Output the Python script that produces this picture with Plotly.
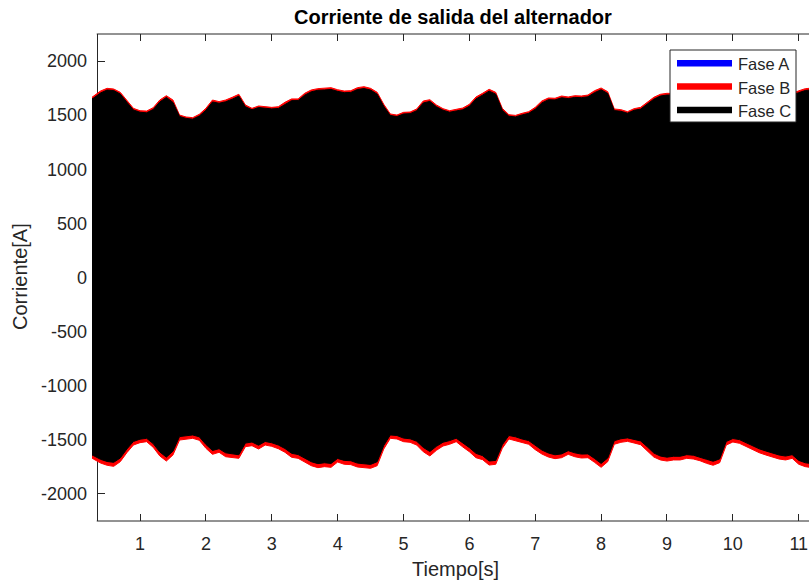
import plotly.graph_objects as go

# Sample times [s] of the current envelopes
TIEMPO = [0.27, 0.3, 0.4, 0.5, 0.6, 0.7, 0.8, 0.9, 1.0, 1.1,
          1.2, 1.3, 1.4, 1.5, 1.6, 1.7, 1.8, 1.9, 2.0, 2.1,
          2.2, 2.3, 2.4, 2.5, 2.6, 2.7, 2.8, 2.9, 3.0, 3.1,
          3.2, 3.3, 3.4, 3.5, 3.6, 3.7, 3.8, 3.9, 4.0, 4.1,
          4.2, 4.3, 4.4, 4.5, 4.6, 4.7, 4.8, 4.9, 5.0, 5.1,
          5.2, 5.3, 5.4, 5.5, 5.6, 5.7, 5.8, 5.9, 6.0, 6.1,
          6.2, 6.3, 6.4, 6.5, 6.6, 6.7, 6.8, 6.9, 7.0, 7.1,
          7.2, 7.3, 7.4, 7.5, 7.6, 7.7, 7.8, 7.9, 8.0, 8.1,
          8.2, 8.3, 8.4, 8.5, 8.6, 8.7, 8.8, 8.9, 9.0, 9.1,
          9.2, 9.3, 9.4, 9.5, 9.6, 9.7, 9.8, 9.9, 10.0, 10.1,
          10.2, 10.3, 10.4, 10.5, 10.6, 10.7, 10.8, 10.9, 11.0, 11.1,
          11.2]

# Phase B: positive / negative peak envelope [A]
FASE_B_SUP = [1665, 1677, 1723, 1748, 1742, 1711, 1637, 1563, 1541, 1538,
              1569, 1640, 1680, 1640, 1501, 1483, 1477, 1508, 1563, 1640,
              1625, 1640, 1665, 1693, 1594, 1563, 1585, 1578, 1572, 1578,
              1619, 1650, 1650, 1702, 1733, 1745, 1748, 1754, 1735, 1723,
              1726, 1754, 1763, 1748, 1711, 1600, 1511, 1501, 1526, 1529,
              1557, 1631, 1643, 1594, 1560, 1541, 1554, 1566, 1600, 1668,
              1702, 1739, 1711, 1563, 1504, 1498, 1517, 1532, 1572, 1631,
              1659, 1656, 1677, 1668, 1680, 1677, 1686, 1726, 1751, 1717,
              1557, 1551, 1532, 1560, 1572, 1619, 1665, 1693, 1702, 1700,
              1695, 1685, 1690, 1705, 1725, 1740, 1720, 1560, 1530, 1540,
              1570, 1600, 1625, 1645, 1665, 1680, 1690, 1700, 1725, 1745,
              1750]
FASE_B_INF = [-1668, -1680, -1714, -1735, -1745, -1702, -1619, -1548, -1526, -1517,
              -1569, -1649, -1696, -1640, -1502, -1492, -1486, -1504, -1578, -1634,
              -1615, -1656, -1665, -1671, -1563, -1554, -1585, -1548, -1560, -1582,
              -1615, -1661, -1671, -1708, -1739, -1757, -1748, -1754, -1705, -1726,
              -1729, -1751, -1757, -1763, -1739, -1585, -1486, -1492, -1517, -1523,
              -1548, -1610, -1649, -1597, -1557, -1541, -1517, -1566, -1610, -1665,
              -1683, -1733, -1726, -1578, -1492, -1504, -1526, -1541, -1591, -1631,
              -1659, -1674, -1665, -1634, -1656, -1668, -1665, -1708, -1754, -1702,
              -1541, -1523, -1514, -1529, -1545, -1600, -1659, -1686, -1696, -1686,
              -1686, -1671, -1677, -1693, -1717, -1735, -1711, -1548, -1520, -1532,
              -1560, -1591, -1619, -1640, -1661, -1677, -1686, -1671, -1726, -1748,
              -1757]

# Phase C: positive / negative peak envelope [A]
FASE_C_SUP = [1650, 1660, 1705, 1732, 1728, 1695, 1620, 1548, 1527, 1522,
              1552, 1622, 1664, 1618, 1488, 1470, 1463, 1492, 1545, 1622,
              1610, 1624, 1648, 1676, 1578, 1550, 1570, 1563, 1558, 1562,
              1600, 1634, 1635, 1685, 1716, 1730, 1733, 1738, 1720, 1708,
              1710, 1737, 1746, 1732, 1694, 1582, 1497, 1487, 1511, 1514,
              1541, 1613, 1627, 1578, 1546, 1527, 1539, 1550, 1582, 1650,
              1685, 1722, 1694, 1546, 1490, 1484, 1502, 1517, 1555, 1613,
              1643, 1641, 1661, 1653, 1664, 1662, 1670, 1708, 1735, 1700,
              1542, 1536, 1518, 1545, 1556, 1602, 1648, 1677, 1686, 1685,
              1680, 1670, 1675, 1690, 1710, 1724, 1704, 1545, 1516, 1525,
              1555, 1584, 1610, 1629, 1650, 1664, 1675, 1685, 1708, 1728,
              1734]
FASE_C_INF = [-1640, -1648, -1680, -1700, -1708, -1668, -1585, -1515, -1494, -1486,
              -1535, -1612, -1660, -1605, -1470, -1460, -1455, -1472, -1542, -1598,
              -1582, -1620, -1630, -1638, -1530, -1520, -1550, -1515, -1527, -1548,
              -1580, -1624, -1636, -1672, -1702, -1720, -1712, -1718, -1672, -1690,
              -1693, -1715, -1720, -1727, -1702, -1552, -1455, -1460, -1484, -1490,
              -1513, -1570, -1608, -1560, -1522, -1507, -1485, -1530, -1572, -1625,
              -1646, -1696, -1690, -1545, -1460, -1472, -1492, -1507, -1553, -1594,
              -1622, -1638, -1630, -1600, -1620, -1632, -1630, -1672, -1718, -1668,
              -1508, -1490, -1482, -1496, -1510, -1564, -1622, -1650, -1660, -1652,
              -1652, -1637, -1642, -1658, -1680, -1698, -1676, -1515, -1488, -1498,
              -1526, -1556, -1583, -1603, -1624, -1640, -1650, -1637, -1690, -1712,
              -1720]

# Phase A: envelope (first sample is the initial half-cycle)
TIEMPO_A = [0.256, 0.27, 0.3, 0.5, 1.0, 1.5, 2.0, 2.5, 3.0, 3.5, 4.0, 4.5, 5.0,
            5.5, 6.0, 6.5, 7.0, 7.5, 8.0, 8.5, 9.0, 9.5, 10.0, 10.5, 11.0, 11.2]
FASE_A_SUP = [1400, 1410, 1440, 1450, 1445, 1440, 1440, 1445, 1450, 1455, 1460, 1460, 1450,
              1450, 1450, 1445, 1450, 1455, 1450, 1445, 1450, 1455, 1450, 1455, 1460, 1460]
FASE_A_INF = [-530, -560, -1440, -1450, -1445, -1440, -1435, -1445, -1450, -1455, -1460, -1455, -1440,
              -1450, -1445, -1440, -1450, -1455, -1445, -1440, -1450, -1455, -1450, -1455, -1460, -1460]

FASES = ["Fase A", "Fase B", "Fase C"]
COLORES = ["#0000ff", "#ff0000", "#000000"]

X_TICKS = [1, 2, 3, 4, 5, 6, 7, 8, 9, 10, 11]
X_TICK_TEXT = ["1", "2", "3", "4", "5", "6", "7", "8", "9", "10", "11"]
Y_TICKS = [-2000, -1500, -1000, -500, 0, 500, 1000, 1500, 2000]
Y_TICK_TEXT = ["-2000", "-1500", "-1000", "-500", "0", "500", "1000", "1500", "2000"]

X_RANGE = [0.271, 11.171]
Y_RANGE = [-2250, 2250]
X_EJE_IZQ = 0.343          # where the left box edge sits (data units)

TEXTO = "#262626"
FUENTE = "Liberation Sans, Arial, Helvetica, sans-serif"


def banda(t, sup, inf, nombre, color):
    """Filled band between the upper and lower peak envelopes of one phase."""
    t = list(t)
    return go.Scatter(
        x=t + t[::-1],
        y=list(sup) + list(inf)[::-1],
        mode="lines",
        fill="toself",
        fillcolor=color,
        line=dict(color=color, width=1),
        name=nombre,
        showlegend=False,
        hoverinfo="skip",
    )


fig = go.Figure()
fig.add_trace(banda(TIEMPO_A, FASE_A_SUP, FASE_A_INF, FASES[0], COLORES[0]))
fig.add_trace(banda(TIEMPO, FASE_B_SUP, FASE_B_INF, FASES[1], COLORES[1]))
fig.add_trace(banda(TIEMPO, FASE_C_SUP, FASE_C_INF, FASES[2], COLORES[2]))

W, H = 812, 583
ML, MR, MT, MB = 92, 2, 34, 62
PW, PH = W - ML - MR, H - MT - MB


def px(x):
    return (x - ML) / PW


def py(y):
    return (H - MB - y) / PH


fig.update_layout(
    width=W, height=H,
    margin=dict(l=ML, r=MR, t=MT, b=MB, pad=0),
    paper_bgcolor="white", plot_bgcolor="white",
    showlegend=False,
    font=dict(family=FUENTE, size=18, color=TEXTO),
    xaxis=dict(
        range=X_RANGE, tickmode="array", tickvals=X_TICKS, ticktext=X_TICK_TEXT,
        ticks="inside", ticklen=7, tickwidth=1, tickcolor=TEXTO,
        mirror="ticks", showline=False, showgrid=False, zeroline=False,
        layer="below traces", ticklabelstandoff=10,
        tickfont=dict(size=18, color=TEXTO),
    ),
    yaxis=dict(
        range=Y_RANGE, anchor="free", position=px(96.7) + 0 * 0,
        tickmode="array", tickvals=Y_TICKS, ticktext=Y_TICK_TEXT,
        ticks="inside", ticklen=7, tickwidth=1, tickcolor=TEXTO,
        showline=True, linecolor=TEXTO, linewidth=1,
        showgrid=False, zeroline=False, layer="below traces",
        ticklabelstandoff=6, tickfont=dict(size=18, color=TEXTO),
    ),
    yaxis2=dict(
        range=Y_RANGE, overlaying="y", side="right", anchor="x",
        tickmode="array", tickvals=Y_TICKS,
        ticks="inside", ticklen=7, tickwidth=1, tickcolor=TEXTO,
        showticklabels=False, showgrid=False, zeroline=False, showline=False,
    ),
)
# position of the free y axis is relative to the plot area
fig.layout.yaxis.position = (96.7 - ML) / PW

# top and bottom edges of the axes box
for yb in (0, 1):
    fig.add_shape(type="line", xref="x", yref="paper",
                  x0=X_EJE_IZQ, x1=X_RANGE[1], y0=yb, y1=yb,
                  line=dict(color=TEXTO, width=1))

# titles
fig.add_annotation(text="<b>Corriente de salida del alternador</b>",
                   xref="paper", yref="paper", x=px(453), y=py(17),
                   xanchor="center", yanchor="middle", showarrow=False,
                   font=dict(size=20, color="#000000", family=FUENTE))
fig.add_annotation(text="Tiempo[s]", xref="paper", yref="paper",
                   x=px(455), y=py(569), xanchor="center", yanchor="middle",
                   showarrow=False, font=dict(size=20, color=TEXTO, family=FUENTE))
fig.add_annotation(text="Corriente[A]", xref="paper", yref="paper",
                   x=px(20), y=py(277), xanchor="center", yanchor="middle",
                   textangle=-90, showarrow=False,
                   font=dict(size=20, color=TEXTO, family=FUENTE))

# legend box with line samples
fig.add_shape(type="rect", xref="paper", yref="paper",
              x0=px(670), x1=px(796), y0=py(122), y1=py(50),
              line=dict(color=TEXTO, width=1), fillcolor="white", layer="above")
for i, (nombre, color) in enumerate(zip(FASES, COLORES)):
    yr = 63.3 + i * 23.3
    fig.add_shape(type="line", xref="paper", yref="paper",
                  x0=px(677), x1=px(732), y0=py(yr), y1=py(yr),
                  line=dict(color=color, width=6.5), layer="above")
    fig.add_annotation(text=nombre, xref="paper", yref="paper",
                       x=px(736), y=py(yr + 1), xanchor="left", yanchor="middle",
                       showarrow=False,
                       font=dict(size=16.5, color=TEXTO, family=FUENTE))

fig.write_html("out.html")
